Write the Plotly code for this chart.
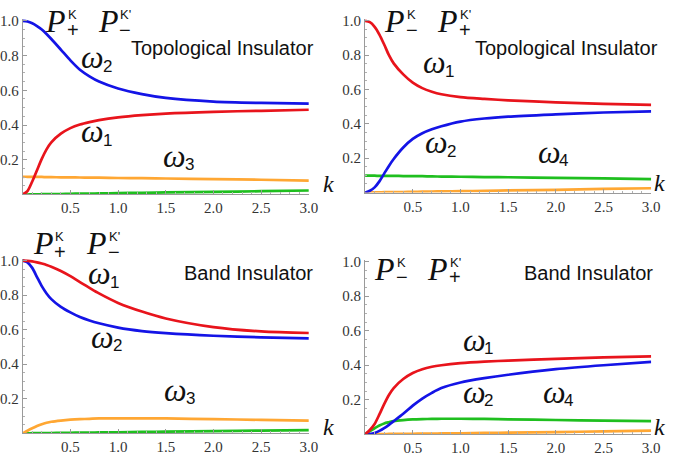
import plotly.graph_objects as go

W, H = 677, 458

# ---------------- data ----------------
K = [0, 0.05, 0.1, 0.15, 0.2, 0.25, 0.3, 0.4, 0.5, 0.6, 0.7, 0.8, 1.0, 1.25, 1.5, 2.0, 2.5, 3.0]

# Panel 1: Topological insulator, P+^K, P-^K'
ti1_w2_blue = [1.0, 0.996, 0.986, 0.97, 0.95, 0.924, 0.895, 0.834, 0.772, 0.718, 0.68, 0.65, 0.61, 0.578, 0.556, 0.535, 0.527, 0.523]
ti1_w1_red = [0.0, 0.02, 0.075, 0.14, 0.205, 0.26, 0.30, 0.35, 0.382, 0.403, 0.417, 0.428, 0.444, 0.457, 0.466, 0.476, 0.482, 0.488]
ti1_w3_orange = [0.102, 0.102, 0.101, 0.101, 0.101, 0.100, 0.100, 0.099, 0.099, 0.098, 0.097, 0.097, 0.095, 0.094, 0.092, 0.089, 0.085, 0.080]
ti1_green = [0.0, 0.0, 0.001, 0.001, 0.002, 0.002, 0.002, 0.003, 0.004, 0.005, 0.005, 0.006, 0.008, 0.010, 0.012, 0.015, 0.019, 0.023]

# Panel 2: Topological insulator, P-^K, P+^K'
ti2_w1_red = [1.0, 0.992, 0.965, 0.92, 0.862, 0.80, 0.752, 0.688, 0.64, 0.608, 0.587, 0.572, 0.555, 0.545, 0.537, 0.525, 0.516, 0.511]
ti2_w2_blue = [0.0, 0.01, 0.03, 0.065, 0.11, 0.155, 0.195, 0.262, 0.312, 0.345, 0.368, 0.386, 0.413, 0.431, 0.442, 0.455, 0.466, 0.473]
ti2_w4_green = [0.098, 0.098, 0.098, 0.097, 0.097, 0.097, 0.097, 0.096, 0.095, 0.095, 0.094, 0.093, 0.092, 0.090, 0.089, 0.085, 0.082, 0.078]
ti2_orange = [0.0, 0.0, 0.001, 0.001, 0.002, 0.002, 0.002, 0.003, 0.004, 0.005, 0.006, 0.007, 0.008, 0.010, 0.012, 0.016, 0.021, 0.025]

# Panel 3: Band insulator, P+^K, P-^K'
bi1_w1_red = [1.0, 0.999, 0.996, 0.99, 0.983, 0.975, 0.965, 0.94, 0.91, 0.875, 0.842, 0.81, 0.755, 0.705, 0.665, 0.615, 0.59, 0.581]
bi1_w2_blue = [1.0, 0.99, 0.958, 0.905, 0.852, 0.81, 0.777, 0.732, 0.70, 0.673, 0.653, 0.637, 0.612, 0.592, 0.58, 0.565, 0.556, 0.55]
bi1_w3_orange = [0.0, 0.015, 0.029, 0.042, 0.053, 0.061, 0.067, 0.074, 0.079, 0.082, 0.084, 0.086, 0.087, 0.087, 0.086, 0.082, 0.078, 0.074]
bi1_green = [0.0, 0.0, 0.001, 0.001, 0.001, 0.002, 0.002, 0.003, 0.003, 0.004, 0.004, 0.005, 0.006, 0.008, 0.010, 0.013, 0.016, 0.019]

# Panel 4: Band insulator, P-^K, P+^K'
bi2_w1_red = [0.0, 0.025, 0.06, 0.115, 0.175, 0.228, 0.268, 0.32, 0.355, 0.377, 0.391, 0.40, 0.412, 0.421, 0.427, 0.437, 0.445, 0.451]
bi2_w2_blue = [0.0, 0.002, 0.008, 0.02, 0.036, 0.055, 0.076, 0.119, 0.166, 0.207, 0.24, 0.268, 0.30, 0.325, 0.345, 0.377, 0.40, 0.419]
bi2_w4_green = [0.0, 0.018, 0.035, 0.051, 0.063, 0.07, 0.076, 0.082, 0.086, 0.088, 0.089, 0.09, 0.09, 0.089, 0.087, 0.083, 0.079, 0.076]
bi2_orange = [0.0, 0.0, 0.001, 0.001, 0.001, 0.002, 0.002, 0.003, 0.003, 0.004, 0.004, 0.005, 0.006, 0.008, 0.010, 0.013, 0.017, 0.021]

X_TICKS = [0.5, 1.0, 1.5, 2.0, 2.5, 3.0]
X_TICK_TEXT = ["0.5", "1.0", "1.5", "2.0", "2.5", "3.0"]
Y_TICKS = [0.2, 0.4, 0.6, 0.8, 1.0]
Y_TICK_TEXT = ["0.2", "0.4", "0.6", "0.8", "1.0"]

RED = "#e8141c"
BLUE = "#1414e6"
ORANGE = "#ffa733"
GREEN = "#1fbf1f"

# ---------------- layout helpers ----------------
def px_x(x):
    return x / W

def px_y(y):
    return 1 - y / H

# panel pixel geometry: (x at k=0, x at k=3, y px at 0, y px at 1)
panels = [
    (23, 313, 191, 15),
    (370, 660, 189, 15),
    (23, 313, 433, 258),
    (370, 660, 434, 259),
]

series = [
    [(ti1_w2_blue, BLUE), (ti1_w1_red, RED), (ti1_w3_orange, ORANGE), (ti1_green, GREEN)],
    [(ti2_w1_red, RED), (ti2_w2_blue, BLUE), (ti2_w4_green, GREEN), (ti2_orange, ORANGE)],
    [(bi1_w1_red, RED), (bi1_w2_blue, BLUE), (bi1_w3_orange, ORANGE), (bi1_green, GREEN)],
    [(bi2_w1_red, RED), (bi2_w2_blue, BLUE), (bi2_w4_green, GREEN), (bi2_orange, ORANGE)],
]

TICKFONT = dict(family="Liberation Serif", size=15, color="#333333")

fig = go.Figure()
layout = {}
YTOP = 1.01
for i, (x0, x3, y0, y1) in enumerate(panels):
    n = "" if i == 0 else str(i + 1)
    per = (y0 - y1)
    top_px = y0 - YTOP * per
    layout["xaxis" + n] = dict(
        domain=[px_x(x0), px_x(x3)], range=[0, 3.0], anchor="y" + n,
        showline=True, linecolor="#9a9a9a", linewidth=1,
        showgrid=False, zeroline=False,
        ticks="inside", ticklen=4, tickcolor="#9a9a9a", tickwidth=1,
        tickvals=X_TICKS, ticktext=X_TICK_TEXT,
        minor=dict(ticks="inside", ticklen=2, tickcolor="#b0b0b0", dtick=0.1, showgrid=False),
        tickfont=TICKFONT,
        fixedrange=True,
    )
    layout["yaxis" + n] = dict(
        domain=[px_y(y0), px_y(top_px)], range=[0, YTOP], anchor="x" + n,
        showline=True, linecolor="#9a9a9a", linewidth=1,
        showgrid=False, zeroline=False,
        ticks="inside", ticklen=4, tickcolor="#9a9a9a", tickwidth=1,
        tickvals=Y_TICKS, ticktext=Y_TICK_TEXT,
        minor=dict(ticks="inside", ticklen=2, tickcolor="#b0b0b0", dtick=0.05, showgrid=False),
        tickfont=TICKFONT,
        fixedrange=True,
    )
    for vals, col in series[i][::-1]:
        fig.add_trace(go.Scatter(
            x=K, y=vals, mode="lines", line=dict(color=col, width=2.7, shape="spline", smoothing=0.8),
            xaxis="x" + n, yaxis="y" + n, cliponaxis=False, showlegend=False, hoverinfo="skip",
        ))

ann = []

def txt(x, y, s, family="Liberation Sans", size=18, xanchor="left", color="#111111"):
    ann.append(dict(x=px_x(x), y=px_y(y), xref="paper", yref="paper", text=s, showarrow=False,
                    xanchor=xanchor, yanchor="middle", font=dict(family=family, size=size, color=color)))

def Plabel(x, y, sup, sub):
    txt(x - 3, y - 3, "<i>P</i>", family="Liberation Serif", size=32)
    txt(x + 20, y - 9, sup, family="Liberation Sans", size=13)
    txt(x + 19, y + 6, sub, family="Liberation Sans", size=20)

def wlabel(x, y, d):
    txt(x - 3, y - 10, "<i>ω</i>", family="Liberation Serif", size=32)
    txt(x + 19, y - 1, d, family="Liberation Sans", size=17)

def klabel(x, y):
    txt(x, y, "<i>k</i>", family="Liberation Serif", size=24)

MINUS = "\u2212"
# panel 1
Plabel(47, 18, "K", "+")
Plabel(100, 18, "K'", MINUS)
txt(131, 43, "Topological Insulator", size=20)
wlabel(83, 62, "2")
wlabel(83, 137, "1")
wlabel(166, 162, "3")
klabel(325, 180)
# panel 2
Plabel(390, 18, "K", MINUS)
Plabel(444, 18, "K'", "+")
txt(479, 43, "Topological Insulator", size=20)
wlabel(430, 67, "1")
wlabel(432, 148, "2")
wlabel(546, 158, "4")
klabel(661, 179)
# panel 3
Plabel(34, 243, "K", "+")
Plabel(88, 243, "K'", MINUS)
txt(184, 271, "Band Insulator", size=20)
wlabel(90, 281, "1")
wlabel(93, 345, "2")
wlabel(167, 399, "3")
klabel(325, 427)
# panel 4
Plabel(380, 269, "K", MINUS)
Plabel(434, 269, "K'", "+")
txt(529, 271, "Band Insulator", size=20)
wlabel(470, 348, "1")
wlabel(470, 401, "2")
wlabel(551, 401, "4")
klabel(661, 427)

fig.update_layout(
    width=W, height=H, margin=dict(l=0, r=0, t=0, b=0),
    paper_bgcolor="white", plot_bgcolor="white",
    font=dict(family="Liberation Serif"),
    annotations=ann, showlegend=False, **layout,
)

fig.write_html(
    "out.html", config={"displayModeBar": False},
    post_script=(
        "document.body.style.margin='0px';document.body.style.padding='0px';"
        "document.body.style.overflow='hidden';document.documentElement.style.overflow='hidden';"
    ),
)
